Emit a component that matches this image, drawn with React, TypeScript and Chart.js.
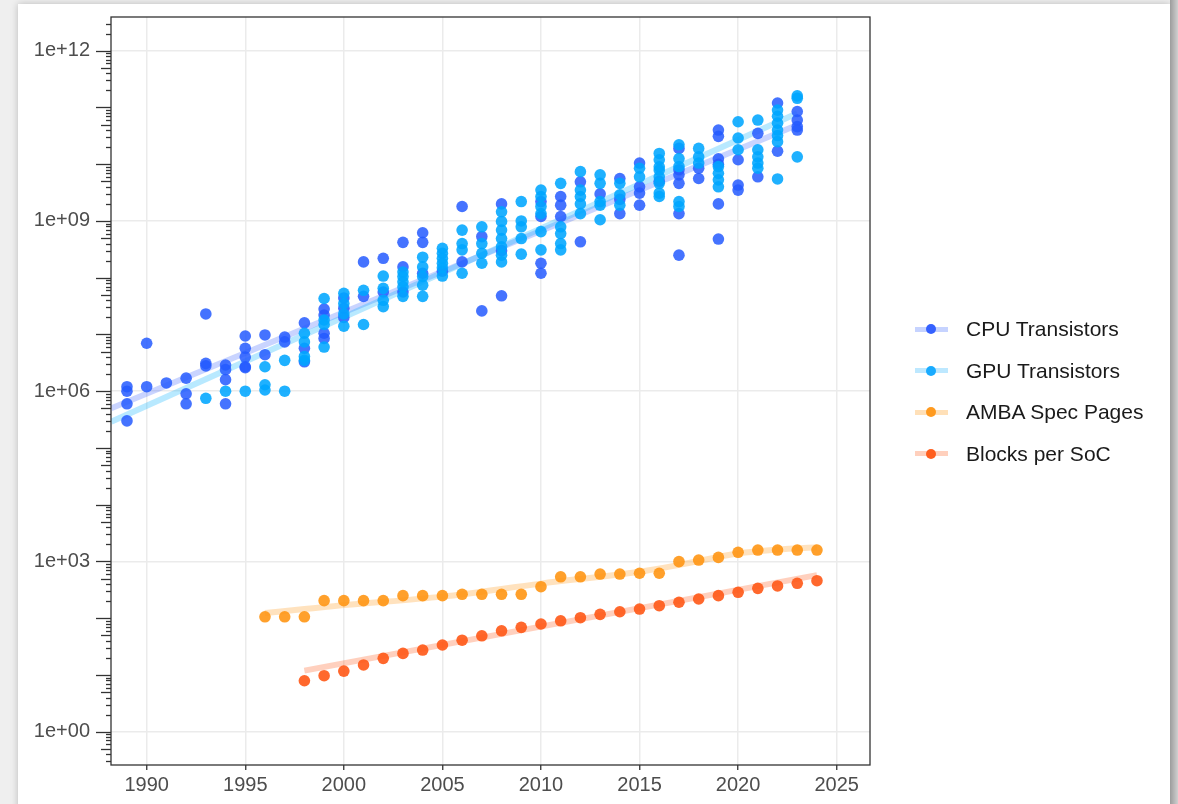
import React, { useEffect, useRef } from "react";
import { Chart, registerables } from "chart.js";

Chart.register(...registerables);

// ---------- DATA ----------
const yearTicks = [1990, 1995, 2000, 2005, 2010, 2015, 2020, 2025];
const logTickValues = [1, 1e3, 1e6, 1e9, 1e12];

const cpuPoints: [number, number][] = [
  [1989, 1.2e6], [1989, 1.0e6], [1989, 6e5], [1989, 3e5],
  [1990, 7e6], [1990, 1.2e6],
  [1991, 1.4e6],
  [1992, 1.7e6], [1992, 9e5], [1992, 6e5],
  [1993, 2.3e7], [1993, 3.1e6], [1993, 2.8e6],
  [1994, 2.9e6], [1994, 2.4e6], [1994, 1.6e6], [1994, 6e5],
  [1995, 9.4e6], [1995, 5.7e6], [1995, 4e6], [1995, 2.7e6], [1995, 2.6e6],
  [1996, 9.8e6], [1996, 4.4e6],
  [1997, 9e6], [1997, 7.4e6],
  [1998, 1.6e7], [1998, 5.7e6], [1998, 3.3e6],
  [1999, 2.8e7], [1999, 2.2e7], [1999, 1.05e7], [1999, 8.5e6],
  [2000, 4.4e7], [2000, 2.9e7], [2000, 2e7],
  [2001, 1.9e8], [2001, 4.7e7],
  [2002, 2.2e8], [2002, 5.6e7],
  [2003, 4.2e8], [2003, 1.55e8], [2003, 5.6e7],
  [2004, 6.2e8], [2004, 4.2e8], [2004, 1.2e8],
  [2005, 1.3e8],
  [2006, 1.8e9], [2006, 1.9e8],
  [2007, 5.3e8], [2007, 2.6e7],
  [2008, 2e9], [2008, 3e8], [2008, 4.8e7],
  [2010, 2.2e9], [2010, 1.2e9], [2010, 1.8e8], [2010, 1.2e8],
  [2011, 2.7e9], [2011, 1.9e9], [2011, 1.2e9],
  [2012, 4.9e9], [2012, 4.3e8],
  [2013, 3e9],
  [2014, 5.6e9], [2014, 2.4e9], [2014, 1.35e9],
  [2015, 1.05e10], [2015, 4e9], [2015, 3.1e9], [2015, 1.9e9],
  [2016, 5e9],
  [2017, 1.9e10], [2017, 8e9], [2017, 6.5e9], [2017, 4.6e9], [2017, 1.35e9], [2017, 2.5e8],
  [2018, 8.5e9], [2018, 5.6e9],
  [2019, 4e10], [2019, 3.1e10], [2019, 1.25e10], [2019, 1e10], [2019, 2e9], [2019, 4.8e8],
  [2020, 1.2e10], [2020, 4.3e9], [2020, 3.5e9],
  [2021, 3.5e10], [2021, 6e9],
  [2022, 1.2e11], [2022, 1.7e10],
  [2023, 8.5e10], [2023, 6e10], [2023, 4.6e10], [2023, 4e10],
];

const gpuPoints: [number, number][] = [
  [1993, 7.5e5],
  [1994, 1e6],
  [1995, 1e6],
  [1996, 2.7e6], [1996, 1.3e6], [1996, 1.05e6],
  [1997, 3.5e6], [1997, 1e6],
  [1998, 1.05e7], [1998, 7.4e6], [1998, 4.1e6], [1998, 3.5e6],
  [1999, 4.3e7], [1999, 1.8e7], [1999, 1.5e7], [1999, 6e6],
  [2000, 5.3e7], [2000, 3.5e7], [2000, 2.3e7], [2000, 1.4e7],
  [2001, 6e7], [2001, 1.5e7],
  [2002, 1.07e8], [2002, 6.5e7], [2002, 4e7], [2002, 3.1e7],
  [2003, 1.26e8], [2003, 1.05e8], [2003, 8.5e7], [2003, 6.9e7], [2003, 4.7e7],
  [2004, 2.3e8], [2004, 1.55e8], [2004, 1.05e8], [2004, 7.4e7], [2004, 4.7e7],
  [2005, 3.3e8], [2005, 2.7e8], [2005, 2.2e8], [2005, 1.8e8], [2005, 1.5e8], [2005, 1.07e8],
  [2006, 6.9e8], [2006, 4e8], [2006, 3.1e8], [2006, 1.2e8],
  [2007, 7.9e8], [2007, 4e8], [2007, 2.7e8], [2007, 1.8e8],
  [2008, 1.45e9], [2008, 9.8e8], [2008, 6.9e8], [2008, 4.9e8], [2008, 3.5e8], [2008, 2.5e8], [2008, 1.9e8],
  [2009, 2.2e9], [2009, 1e9], [2009, 7.9e8], [2009, 4.9e8], [2009, 2.6e8],
  [2010, 3.5e9], [2010, 2.7e9], [2010, 1.8e9], [2010, 1.35e9], [2010, 6.5e8], [2010, 3.1e8],
  [2011, 4.6e9], [2011, 7.9e8], [2011, 6e8], [2011, 4e8], [2011, 3.1e8],
  [2012, 7.4e9], [2012, 3.5e9], [2012, 2.7e9], [2012, 2e9], [2012, 1.35e9],
  [2013, 6.5e9], [2013, 4.6e9], [2013, 2.2e9], [2013, 1.9e9], [2013, 1.05e9],
  [2014, 4.6e9], [2014, 2.9e9], [2014, 1.9e9],
  [2015, 8.5e9], [2015, 6e9],
  [2016, 1.55e10], [2016, 1.2e10], [2016, 9e9], [2016, 7.9e9], [2016, 6e9], [2016, 4.6e9], [2016, 3.1e9], [2016, 2.7e9],
  [2017, 2.2e10], [2017, 1.26e10], [2017, 9.1e9], [2017, 2.2e9], [2017, 1.8e9],
  [2018, 1.9e10], [2018, 1.35e10], [2018, 1.05e10],
  [2019, 9.1e9], [2019, 6.9e9], [2019, 5.3e9], [2019, 4e9],
  [2020, 5.6e10], [2020, 2.9e10], [2020, 1.8e10],
  [2021, 6e10], [2021, 1.8e10], [2021, 1.35e10], [2021, 1.05e10], [2021, 8.5e9],
  [2022, 9e10], [2022, 7e10], [2022, 5.3e10], [2022, 4e10], [2022, 3.2e10], [2022, 2.5e10], [2022, 5.5e9],
  [2023, 1.6e11], [2023, 1.45e11], [2023, 1.35e10],
];

const ambaYears = [1996, 1997, 1998, 1999, 2000, 2001, 2002, 2003, 2004, 2005, 2006, 2007, 2008, 2009, 2010,
  2011, 2012, 2013, 2014, 2015, 2016, 2017, 2018, 2019, 2020, 2021, 2022, 2023, 2024];
const ambaPages = [106, 106, 106, 204, 204, 204, 204, 250, 250, 250, 264, 264, 264, 264, 359,
  537, 537, 600, 600, 620, 620, 995, 1060, 1180, 1450, 1590, 1590, 1590, 1590];

const blockYears = [1998, 1999, 2000, 2001, 2002, 2003, 2004, 2005, 2006, 2007, 2008, 2009, 2010,
  2011, 2012, 2013, 2014, 2015, 2016, 2017, 2018, 2019, 2020, 2021, 2022, 2023, 2024];
const blockCounts = [7.9, 9.7, 11.7, 15, 19.6, 24, 27.5, 33.7, 41, 49, 60, 69, 79,
  90, 102, 117, 130, 145, 166, 191, 218, 250, 286, 336, 370, 412, 458];

// Fitted trend lines
const cpuTrendYears = [1988.2, 2023];
const cpuTrendValues = [5e5, 4.9e10];
const gpuTrendYears = [1988.2, 2023];
const gpuTrendValues = [2.9e5, 7.9e10];
const ambaTrendYears = [1996, 1998, 2000, 2005, 2010, 2015, 2017, 2020, 2022, 2024];
const ambaTrendValues = [123, 145, 170, 240, 407, 660, 870, 1380, 1620, 1780];
const blockTrendYears = [1998, 2024];
const blockTrendValues = [11.9, 575];

const seriesNames = ["CPU Transistors", "GPU Transistors", "AMBA Spec Pages", "Blocks per SoC"];

// ---------- STYLE ----------
const FONT = "'Liberation Sans', Arial, Helvetica, sans-serif";
const dotColors = ["rgba(36,90,255,0.85)", "rgba(0,166,255,0.88)", "rgba(255,150,20,0.9)", "rgba(255,88,22,0.9)"];
const lineColors = ["rgba(60,100,255,0.28)", "rgba(0,175,255,0.28)", "rgba(255,160,40,0.3)", "rgba(255,100,40,0.3)"];
const legendDot = ["#3561ff", "#19abff", "#ff9a1f", "#ff5f1f"];
const legendLine = ["#c6d3ff", "#bde8ff", "#ffe0b8", "#ffd0bd"];

const pairs = (xs: number[], ys: number[]) => xs.map((x, i) => ({ x, y: ys[i] }));
const pts = (p: [number, number][]) => p.map(([x, y]) => ({ x, y }));

export default function App() {
  const ref = useRef<HTMLCanvasElement>(null);

  useEffect(() => {
    const canvas = ref.current;
    if (!canvas) return;

    const panelPlugin = {
      id: "panelDecor",
      afterDraw(chart: any) {
        const { ctx, chartArea } = chart;
        const ys = chart.scales.y;
        const { left, top, right, bottom } = chartArea;
        ctx.save();
        ctx.strokeStyle = "#333333";
        ctx.lineWidth = 1.3;
        for (let d = -1; d <= 12; d++) {
          for (let m = 1; m <= 9; m++) {
            const v = m * Math.pow(10, d);
            if (v < ys.min || v > ys.max) continue;
            const y = Math.round(ys.getPixelForValue(v)) + 0.5;
            const len = m === 1 ? 15 : m === 5 ? 10 : 5;
            ctx.beginPath();
            ctx.moveTo(left - len, y);
            ctx.lineTo(left, y);
            ctx.stroke();
          }
        }
        ctx.strokeRect(left, top, right - left, bottom - top);
        ctx.restore();
      },
    };

    const chart = new Chart(canvas, {
      type: "scatter",
      data: {
        datasets: [
          { type: "line", label: "cpu trend", data: pairs(cpuTrendYears, cpuTrendValues), borderColor: lineColors[0], borderWidth: 6, pointRadius: 0, order: 10, borderCapStyle: "butt" } as any,
          { type: "line", label: "gpu trend", data: pairs(gpuTrendYears, gpuTrendValues), borderColor: lineColors[1], borderWidth: 6, pointRadius: 0, order: 9, borderCapStyle: "butt" } as any,
          { type: "line", label: "amba trend", data: pairs(ambaTrendYears, ambaTrendValues), borderColor: lineColors[2], borderWidth: 6, pointRadius: 0, order: 8, cubicInterpolationMode: "monotone", borderCapStyle: "butt" } as any,
          { type: "line", label: "block trend", data: pairs(blockTrendYears, blockTrendValues), borderColor: lineColors[3], borderWidth: 6, pointRadius: 0, order: 7, borderCapStyle: "butt" } as any,
          { label: seriesNames[0], data: pts(cpuPoints), backgroundColor: dotColors[0], borderWidth: 0, pointRadius: 5.8, order: 4 },
          { label: seriesNames[1], data: pts(gpuPoints), backgroundColor: dotColors[1], borderWidth: 0, pointRadius: 5.8, order: 3 },
          { label: seriesNames[2], data: pairs(ambaYears, ambaPages), backgroundColor: dotColors[2], borderWidth: 0, pointRadius: 5.8, order: 2 },
          { label: seriesNames[3], data: pairs(blockYears, blockCounts), backgroundColor: dotColors[3], borderWidth: 0, pointRadius: 5.8, order: 1 },
        ],
      },
      options: {
        responsive: false,
        animation: false,
        devicePixelRatio: 1,
        layout: { padding: { left: 0, top: 17, right: 308, bottom: 0 } },
        plugins: { legend: { display: false }, tooltip: { enabled: false } },
        scales: {
          x: {
            type: "linear",
            min: 1988.19,
            max: 2026.69,
            afterBuildTicks: (s: any) => { s.ticks = yearTicks.map((v) => ({ value: v })); },
            afterFit: (s: any) => { s.height = 39; s.paddingLeft = 0; s.paddingRight = 0; },
            grid: { color: "#ebebeb", lineWidth: 1.5, drawTicks: true, tickLength: 5, tickColor: "#333333", tickWidth: 1.3 },
            border: { display: false },
            ticks: { color: "#4d4d4d", font: { size: 20, family: FONT }, padding: 3, maxRotation: 0, callback: (v: any) => String(v) },
          },
          y: {
            type: "logarithmic",
            min: 0.259,
            max: 3.93e12,
            afterBuildTicks: (s: any) => { s.ticks = logTickValues.map((v) => ({ value: v })); },
            afterFit: (s: any) => { s.width = 111; s.paddingTop = 0; s.paddingBottom = 0; },
            grid: { color: "#ebebeb", lineWidth: 1.5, drawTicks: false },
            border: { display: false },
            ticks: {
              color: "#4d4d4d",
              font: { size: 20, family: FONT },
              padding: 21,
              callback: (v: any) => {
                const e = Math.round(Math.log10(Number(v)));
                return "1e+" + String(e).padStart(2, "0");
              },
            },
          },
        },
      },
      plugins: [panelPlugin],
    } as any);

    return () => chart.destroy();
  }, []);

  const rowY = [329, 370.5, 412, 453.5];

  return (
    <div style={{ position: "fixed", left: 0, top: 0, width: 1178, height: 804, background: "#efefef", overflow: "hidden" }}>
      <div style={{ position: "absolute", left: 18, top: 4, width: 1152, height: 810, background: "#ffffff", boxShadow: "0 0 7px rgba(0,0,0,0.22)" }} />
      <div style={{ position: "absolute", left: 1170, top: 0, width: 8, height: 804, background: "linear-gradient(to right, #9c9c9c, #d0d0d0)" }} />
      <canvas ref={ref} width={1178} height={804} style={{ position: "absolute", left: 0, top: 0, width: 1178, height: 804 }} />
      {seriesNames.map((name, i) => (
        <div key={name} style={{ position: "absolute", left: 0, top: rowY[i] - 15, height: 30, width: 1178, pointerEvents: "none" }}>
          <div style={{ position: "absolute", left: 915, top: 12.5, width: 33, height: 5, background: legendLine[i] }} />
          <div style={{ position: "absolute", left: 926, top: 10, width: 10, height: 10, borderRadius: "50%", background: legendDot[i] }} />
          <div style={{ position: "absolute", left: 966, top: 0, height: 30, lineHeight: "30px", fontFamily: FONT, fontSize: 21, color: "#1a1a1a", whiteSpace: "nowrap" }}>{name}</div>
        </div>
      ))}
    </div>
  );
}
